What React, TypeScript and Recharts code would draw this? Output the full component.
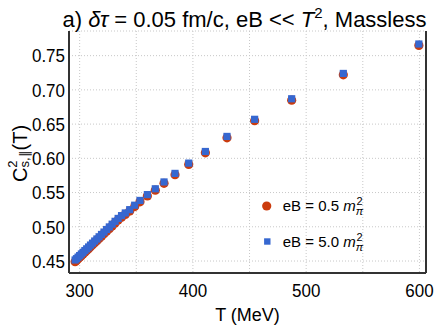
import React from 'react';
import { ScatterChart, Scatter, XAxis, YAxis, CartesianGrid, Legend } from 'recharts';

const temperatures = [
  296.0, 297.2, 298.6, 300.0, 301.5, 303.0, 304.6, 306.2, 307.9, 309.6, 311.4, 313.3,
  315.2, 317.2, 319.3, 321.5, 323.8, 326.2, 328.7, 331.3, 334.0, 337.0, 340.3, 344.2,
  348.6, 353.3, 359.8, 366.8, 374.5, 384.2, 396.3, 411.0, 430.1, 454.5, 487.2, 532.8, 599.5,
];
const cs2Low = [
  0.449, 0.4509, 0.4532, 0.4554, 0.4578, 0.4602, 0.4628, 0.4653, 0.468, 0.4708, 0.4736, 0.4767,
  0.4797, 0.4829, 0.4863, 0.4898, 0.4935, 0.4973, 0.5013, 0.5055, 0.5098, 0.514, 0.518, 0.523,
  0.5295, 0.5365, 0.545, 0.5535, 0.5635, 0.576, 0.591, 0.608, 0.63, 0.655, 0.685, 0.722, 0.765,
];
const cs2High = [
  0.4515, 0.4534, 0.4557, 0.4579, 0.4603, 0.4627, 0.4653, 0.4678, 0.4705, 0.4733, 0.4761, 0.4792,
  0.4822, 0.4854, 0.4888, 0.4923, 0.496, 0.4998, 0.5038, 0.508, 0.5122, 0.5163, 0.5202, 0.525,
  0.5315, 0.5385, 0.547, 0.5555, 0.5655, 0.578, 0.593, 0.61, 0.632, 0.657, 0.687, 0.724, 0.767,
];
const xTicks = [300, 350, 400, 450, 500, 550, 600];
const yTicks = [0.45, 0.5, 0.55, 0.6, 0.65, 0.7, 0.75];
const seriesLabels = ['0.5', '5.0'];

const RED = '#CB3B0D';
const BLUE = '#3667D0';
const FONT = '"Liberation Sans", Arial, sans-serif';

const dataLow = temperatures.map((T, i) => ({ T, cs2: cs2Low[i] }));
const dataHigh = temperatures.map((T, i) => ({ T, cs2: cs2High[i] }));

const RedDot = (p: any) => <circle cx={p.cx} cy={p.cy} r={4.6} fill={RED} />;
const BlueSquare = (p: any) => (
  <rect x={p.cx - 3.6} y={p.cy - 3.6} width={7.2} height={7.2} fill={BLUE} />
);

const XTick = (p: any) => {
  const v = p.payload.value;
  if (v % 100 !== 0) return <g />;
  return (
    <text
      transform={`translate(${p.x},${p.y}) scale(1,1.12)`}
      textAnchor="middle"
      dy="0.71em"
      fontSize={17}
      fontFamily={FONT}
      fill="#000"
    >
      {String(v)}
    </text>
  );
};

const YTick = (p: any) => (
  <text
    transform={`translate(${p.x},${p.y}) scale(1,1.12)`}
    textAnchor="end"
    dy="0.355em"
    fontSize={17}
    fontFamily={FONT}
    fill="#000"
  >
    {Number(p.payload.value).toFixed(2)}
  </text>
);

const LegendContent = () => (
  <svg width={140} height={64} style={{ display: 'block' }}>
    {seriesLabels.map((lab, i) => {
      const cy = 16 + i * 35.5;
      return (
        <g key={lab}>
          {i === 0 ? (
            <circle cx={8.7} cy={cy} r={4.6} fill={RED} />
          ) : (
            <rect x={9.3 - 3.2} y={cy - 3.2} width={6.4} height={6.4} fill={BLUE} />
          )}
          <text x={24.7} y={cy + 5} fontSize={15} fontFamily={FONT} fill="#000">
            {`eB = ${lab} `}
            <tspan fontStyle="italic">m</tspan>
            <tspan fontSize={11} fontStyle="italic" dy={4}>π</tspan>
            <tspan fontSize={11} dx={-6.5} dy={-10}>2</tspan>
          </text>
        </g>
      );
    })}
  </svg>
);

export default function App() {
  return (
    <div style={{ position: 'absolute', left: 0, top: 0, width: 436, height: 327, background: '#fff' }}>
      <ScatterChart width={436} height={327} margin={{ top: 31, right: 0, bottom: 0, left: 0 }}>
        <CartesianGrid stroke="#c8c8c8" strokeDasharray="1 2" />
        <XAxis
          type="number"
          dataKey="T"
          domain={[290.6, 605.8]}
          ticks={xTicks}
          allowDataOverflow
          height={54}
          tickLine={false}
          tickSize={6}
          tickMargin={4}
          tick={XTick}
          axisLine={{ stroke: '#333', strokeWidth: 2 }}
          label={{ value: 'T (MeV)', position: 'insideBottom', offset: 6, fill: '#000', fontSize: 18, fontFamily: FONT }}
        />
        <XAxis
          xAxisId="top"
          orientation="top"
          type="number"
          height={0}
          tick={false}
          tickLine={false}
          axisLine={{ stroke: '#333', strokeWidth: 2 }}
        />
        <YAxis
          type="number"
          dataKey="cs2"
          domain={[0.4325, 0.786]}
          ticks={yTicks}
          allowDataOverflow
          width={69}
          tickLine={false}
          tickSize={0}
          tickMargin={4}
          tick={YTick}
          axisLine={{ stroke: '#333', strokeWidth: 2 }}
        />
        <YAxis
          yAxisId="right"
          orientation="right"
          type="number"
          width={10}
          tick={false}
          tickLine={false}
          axisLine={{ stroke: '#333', strokeWidth: 2 }}
        />
        <Scatter data={dataLow} shape={RedDot} isAnimationActive={false} />
        <Scatter data={dataHigh} shape={BlueSquare} isAnimationActive={false} />
        <Legend
          layout="horizontal"
          verticalAlign="middle"
          align="center"
          content={LegendContent}
          wrapperStyle={{ position: 'absolute', left: 258, top: 190, width: 140, height: 64 }}
        />
      </ScatterChart>
      <svg
        width={436}
        height={327}
        style={{ position: 'absolute', left: 0, top: 0, pointerEvents: 'none' }}
      >
        <text x={244.5} y={27} textAnchor="middle" fontSize={22} fontFamily={FONT} fill="#000">
          {'a) '}
          <tspan fontStyle="italic">δτ</tspan>
          {' = 0.05 fm/c, eB << '}
          <tspan fontStyle="italic">T</tspan>
          <tspan fontSize={15} dy={-9}>2</tspan>
          <tspan dy={9}>, Massless</tspan>
        </text>
        <text
          transform="translate(27,153.5) rotate(-90)"
          textAnchor="middle"
          fontSize={20}
          fontFamily={FONT}
          fill="#000"
        >
          C
          <tspan fontSize={13} dy={-10}>2</tspan>
          <tspan fontSize={13} dx={-7.2} dy={12}>s,∥</tspan>
          <tspan dy={-2}>(T)</tspan>
        </text>
      </svg>
    </div>
  );
}
